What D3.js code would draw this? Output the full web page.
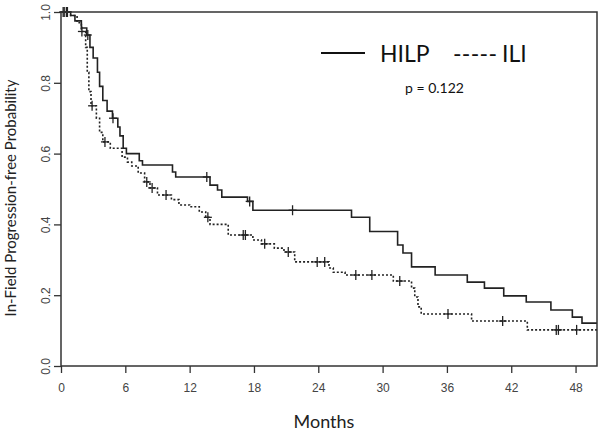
<!DOCTYPE html>
<html>
<head>
<meta charset="utf-8">
<script src="https://cdn.jsdelivr.net/npm/d3@7"></script>
<style>
  body { margin: 0; background: #fff; }
  svg { display: block; }
  .axis text { font-family: "Liberation Sans", Arial, sans-serif; font-size: 12px; fill: #444; }
  .axis line { stroke: #333; stroke-width: 1.3; }
  .axis path { display: none; }
</style>
</head>
<body>
<div id="chart"></div>
<script>
// Kaplan-Meier steps: [month, survival after the drop]
const hilpSteps = [
  [0.9, 0.99], [1.3, 0.975], [1.9, 0.955], [2.4, 0.935], [2.7, 0.90], [3.0, 0.87],
  [3.4, 0.83], [3.6, 0.79], [3.9, 0.75], [4.3, 0.72], [4.8, 0.70], [5.3, 0.675],
  [5.5, 0.65], [5.8, 0.615], [6.1, 0.60], [7.3, 0.58], [7.6, 0.568], [10.4, 0.548],
  [10.7, 0.534], [13.9, 0.511], [14.6, 0.497], [15.0, 0.477], [17.4, 0.465], [17.9, 0.44],
  [27.1, 0.42], [28.8, 0.38], [31.4, 0.342], [31.9, 0.319], [32.7, 0.28], [34.9, 0.257],
  [37.9, 0.237], [39.5, 0.22], [41.3, 0.198], [43.4, 0.181], [45.7, 0.158], [47.7, 0.138],
  [48.6, 0.121]
];
const hilpCensored = [0.3, 0.5, 2.5, 4.85, 13.6, 17.6, 21.6];

const iliSteps = [
  [0.9, 0.99], [1.5, 0.97], [1.9, 0.945], [2.3, 0.90], [2.45, 0.83], [2.6, 0.775],
  [2.8, 0.735], [3.3, 0.70], [3.6, 0.66], [3.9, 0.633], [4.6, 0.615], [5.7, 0.59],
  [6.2, 0.576], [6.6, 0.565], [7.2, 0.545], [7.8, 0.52], [8.3, 0.503], [9.0, 0.483],
  [10.3, 0.47], [11.0, 0.455], [12.0, 0.45], [12.9, 0.435], [13.5, 0.42], [13.9, 0.40],
  [15.6, 0.37], [17.9, 0.356], [18.7, 0.345], [19.9, 0.333], [20.8, 0.322], [21.8, 0.294],
  [25.0, 0.277], [25.4, 0.265], [26.5, 0.257], [31.0, 0.24], [32.7, 0.22], [33.0, 0.195],
  [33.3, 0.167], [33.6, 0.147], [38.3, 0.127], [43.5, 0.102]
];
const iliCensored = [0.2, 0.6, 1.95, 2.9, 4.1, 8.0, 8.5, 9.8, 13.7, 17.0, 17.2, 19.0,
  21.2, 23.9, 24.6, 27.5, 29.0, 31.6, 36.1, 41.2, 46.2, 46.4, 48.1];

const xTicks = [0, 6, 12, 18, 24, 30, 36, 42, 48];
const yTicks = [0, 0.2, 0.4, 0.6, 0.8, 1.0];
const maxMonth = 50;
const pValue = "p = 0.122";

const W = 602, H = 432;
const margin = { top: 12, right: 5, bottom: 66, left: 61 };
const width = W - margin.left - margin.right;
const height = H - margin.top - margin.bottom;

const svg = d3.select('#chart').append('svg')
  .attr('width', W)
  .attr('height', H);

const g = svg.append('g')
  .attr('transform', `translate(${margin.left},${margin.top})`);

const x = d3.scaleLinear().domain([0, maxMonth]).range([0, width]);
const y = d3.scaleLinear().domain([0, 1]).range([height, 0]);

// survival value at time t for a step list
function survAt(steps, t) {
  let s = 1;
  for (const [tm, v] of steps) { if (tm <= t) s = v; }
  return s;
}

const line = d3.line()
  .x(d => x(d[0]))
  .y(d => y(d[1]))
  .curve(d3.curveStepAfter);

function curvePoints(steps) {
  const pts = [[0, 1]].concat(steps);
  pts.push([maxMonth, steps[steps.length - 1][1]]);
  return pts;
}

// axes
g.append('g')
  .attr('class', 'axis')
  .attr('transform', `translate(0,${height})`)
  .call(d3.axisBottom(x).tickValues(xTicks).tickSizeOuter(0).tickSize(7).tickPadding(10));

const yAxis = g.append('g')
  .attr('class', 'axis')
  .call(d3.axisLeft(y).tickValues(yTicks).tickFormat(d3.format('.1f')).tickSizeOuter(0).tickSize(7));
yAxis.selectAll('text')
  .attr('transform', 'rotate(-90)')
  .attr('x', 0)
  .attr('y', -11)
  .attr('dy', 0)
  .attr('text-anchor', 'middle');

// curves
g.append('path')
  .datum(curvePoints(hilpSteps))
  .attr('d', line)
  .attr('fill', 'none')
  .attr('stroke', '#222')
  .attr('stroke-width', 1.6);

g.append('path')
  .datum(curvePoints(iliSteps))
  .attr('d', line)
  .attr('fill', 'none')
  .attr('stroke', '#222')
  .attr('stroke-width', 1.6)
  .attr('stroke-dasharray', '2,2');

// censor marks
function drawCensors(times, steps) {
  const marks = g.append('g').selectAll('g')
    .data(times)
    .enter().append('g')
    .attr('transform', d => `translate(${x(d)},${y(survAt(steps, d))})`);
  marks.append('line').attr('x1', 0).attr('x2', 0).attr('y1', -5).attr('y2', 5)
    .attr('stroke', '#222').attr('stroke-width', 1.3);
  marks.append('line').attr('x1', -4).attr('x2', 4).attr('y1', 0).attr('y2', 0)
    .attr('stroke', '#222').attr('stroke-width', 1.3);
}
drawCensors(hilpCensored, hilpSteps);
drawCensors(iliCensored, iliSteps);

// box
g.append('rect')
  .attr('width', width)
  .attr('height', height)
  .attr('fill', 'none')
  .attr('stroke', '#333')
  .attr('stroke-width', 1.5);

// axis titles
svg.append('text')
  .attr('transform', `translate(16,198) rotate(-90)`)
  .attr('text-anchor', 'middle')
  .attr('font-family', 'Lato, sans-serif')
  .attr('font-size', 15)
  .attr('fill', '#222')
  .text('In-Field Progression-free Probability');

svg.append('text')
  .attr('x', 324)
  .attr('y', 428)
  .attr('text-anchor', 'middle')
  .attr('font-family', 'Lato, sans-serif')
  .attr('font-size', 18)
  .attr('fill', '#222')
  .text('Months');

// legend
const legend = svg.append('g')
  .attr('font-family', 'Lato, sans-serif')
  .attr('fill', '#111');

legend.append('line')
  .attr('x1', 321).attr('x2', 365).attr('y1', 53).attr('y2', 53)
  .attr('stroke', '#111').attr('stroke-width', 2);
legend.append('text')
  .attr('x', 380).attr('y', 62)
  .attr('font-size', 23)
  .text('HILP');
legend.append('text')
  .attr('x', 453).attr('y', 62)
  .attr('font-size', 23)
  .attr('textLength', 44)
  .attr('lengthAdjust', 'spacing')
  .text('-----');
legend.append('text')
  .attr('x', 502).attr('y', 62)
  .attr('font-size', 23)
  .text('ILI');
legend.append('text')
  .attr('x', 405).attr('y', 93)
  .attr('font-size', 14)
  .text(pValue);
</script>
</body>
</html>
